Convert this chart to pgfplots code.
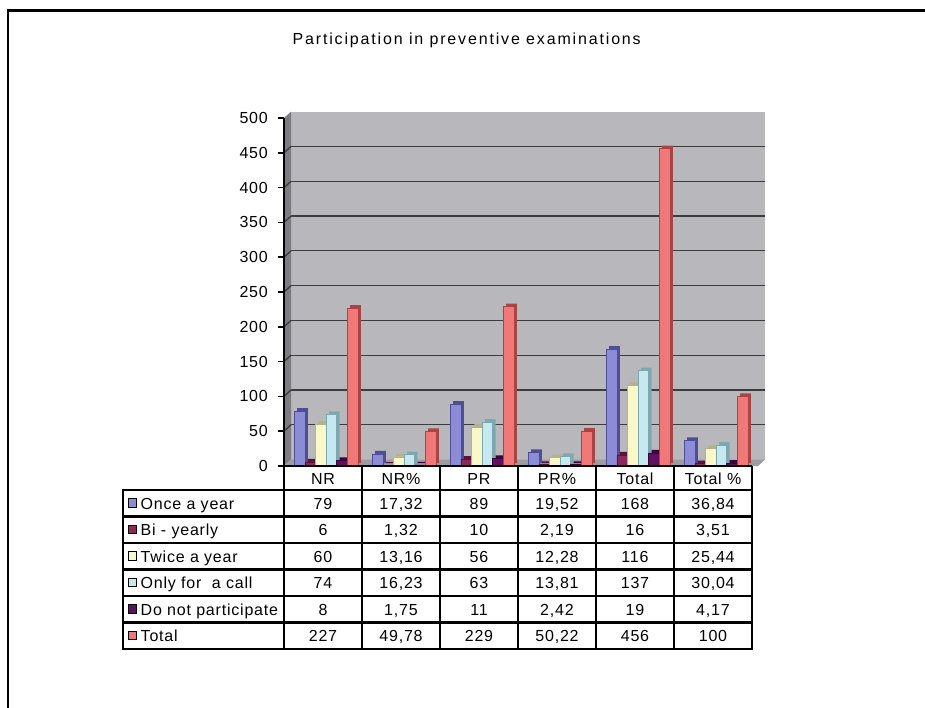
\documentclass[border=0pt]{standalone}
\usepackage{fontspec}
\setmainfont{Liberation Sans}
\newfontfamily\cellfont{Liberation Sans}[LetterSpace=5]
\newfontfamily\headfont{Liberation Sans}[LetterSpace=11.5]
\usepackage{pgfplots}
\usepackage{pgfplotstable}
\pgfplotsset{compat=1.18}

% series colours: front faces (F) and darker side faces (S)
\definecolor{onceF}{HTML}{8C8CD6}\definecolor{onceS}{HTML}{4E4E96}
\definecolor{biF}{HTML}{8C285A}\definecolor{biS}{HTML}{56143A}
\definecolor{twiceF}{HTML}{FAF8C8}\definecolor{twiceS}{HTML}{B4B28A}
\definecolor{onlyF}{HTML}{C6E8F0}\definecolor{onlyS}{HTML}{7EA8B0}
\definecolor{dnpF}{HTML}{601060}\definecolor{dnpS}{HTML}{3A063A}
\definecolor{totalF}{HTML}{F07878}\definecolor{totalS}{HTML}{A84444}
\definecolor{wallc}{HTML}{B8B8BC}
\definecolor{sidec}{HTML}{7C7C82}
\definecolor{floorc}{HTML}{9C9CA2}
\definecolor{gridc}{HTML}{3C3C3C}

% rows: NR, NR%, PR, PR%, Total, Total %
\pgfplotstableread{
x once bi twice only dnp total
0 79 6 60 74 8 227
1 17.32 1.32 13.16 16.23 1.75 49.78
2 89 10 56 63 11 229
3 19.52 2.19 12.28 13.81 2.42 50.22
4 168 16 116 137 19 456
5 36.84 3.51 25.44 30.04 4.17 100
}\partdata

\pgfkeys{/pgf/number format/.cd, fixed, precision=2, use comma, assume math mode=true}
\newcommand\cellsize{\fontsize{16}{19}\selectfont}

\pgfplotsset{
  side/.style={ybar, bar width=10.6pt, draw=none, xshift=3pt, yshift=3pt},
  front/.style={ybar, bar width=10.6pt, line width=0.5pt},
}

\begin{document}
\begin{tikzpicture}
\useasboundingbox (0pt,0pt) rectangle (925pt,-708pt);

\begin{scope}[x=1pt,y=-1pt]
  % frame
  \draw[line width=2.5pt] (7.8,708) -- (7.8,10.5) -- (925,10.5);
  % title
  \node[font=\headfont\cellsize, anchor=base, inner sep=0pt] at (466.7,45)
    {Participation in preventive examinations};
\end{scope}

% back wall with gridlines
\begin{axis}[
  at={(291pt,-459.5pt)}, anchor=south west,
  scale only axis, width=474pt, height=347.8pt,
  xmin=0, xmax=1, ymin=0, ymax=500,
  axis line style={draw=none},
  xtick=\empty, ytick={50,100,...,450}, yticklabels={},
  major tick length=0pt,
  ymajorgrids, grid style={draw=gridc, line width=1.3pt},
  axis background/.style={fill=wallc},
]
\end{axis}

\begin{scope}[x=1pt,y=-1pt]
  % side wall and floor
  \fill[sidec] (284,466) -- (291,459.5) -- (291,111.7) -- (284,118) -- cycle;
  \fill[floorc] (284,466) -- (758,466) -- (765,459.5) -- (291,459.5) -- cycle;
  \foreach \v in {50,100,...,450}
    \draw[gridc, line width=1.3pt] (284,{466-0.696*\v}) -- (291,{459.5-0.6956*\v});
\end{scope}

% columns
\begin{axis}[
  at={(284pt,-466pt)}, anchor=south west,
  scale only axis, width=468pt, height=348pt,
  xmin=-0.5, xmax=5.5, ymin=0, ymax=500,
  clip=false,
  axis x line=none, axis y line*=left,
  y axis line style={black, line width=1.6pt},
  ytick={0,50,...,500},
  tick align=outside, major tick length=6pt,
  ytick style={black, line width=1.6pt},
  yticklabel style={font=\cellfont\cellsize, inner sep=0pt, xshift=-10pt},
]
\addplot[side, bar shift=-23.5pt, fill=onceS]  table[x=x, y=once]  {\partdata};
\addplot[side, bar shift=-12.9pt, fill=biS]    table[x=x, y=bi]    {\partdata};
\addplot[side, bar shift=-2.3pt,  fill=twiceS] table[x=x, y=twice] {\partdata};
\addplot[side, bar shift=8.3pt,   fill=onlyS]  table[x=x, y=only]  {\partdata};
\addplot[side, bar shift=18.9pt,  fill=dnpS]   table[x=x, y=dnp]   {\partdata};
\addplot[side, bar shift=29.5pt,  fill=totalS] table[x=x, y=total] {\partdata};

\addplot[front, bar shift=-23.5pt, fill=onceF,  draw=onceS]  table[x=x, y=once]  {\partdata};
\addplot[front, bar shift=-12.9pt, fill=biF,    draw=biS]    table[x=x, y=bi]    {\partdata};
\addplot[front, bar shift=-2.3pt,  fill=twiceF, draw=twiceS] table[x=x, y=twice] {\partdata};
\addplot[front, bar shift=8.3pt,   fill=onlyF,  draw=onlyS]  table[x=x, y=only]  {\partdata};
\addplot[front, bar shift=18.9pt,  fill=dnpF,   draw=dnpS]   table[x=x, y=dnp]   {\partdata};
\addplot[front, bar shift=29.5pt,  fill=totalF, draw=totalS] table[x=x, y=total] {\partdata};
\end{axis}

% data table under the columns
\begin{scope}[x=1pt,y=-1pt]
  \foreach \h [count=\c from 0] in {NR,NR\%,PR,PR\%,Total,Total \%}
    \node[font=\cellfont\cellsize, anchor=base, inner sep=0pt] at ({323+78*\c},484) {\h};
  \foreach \s/\lab/\col [count=\r from 0] in {
      once/Once a year/onceF, bi/Bi - yearly/biF, twice/Twice a year/twiceF,
      only/Only for\ \ a call/onlyF, dnp/Do not participate/dnpF, total/Total/totalF} {
    \draw[line width=1pt, fill=\col] (128.3,{498.5+26.5*\r}) rectangle ++(8.5,8.5);
    \node[font=\cellfont\cellsize, anchor=base west, inner sep=0pt] at (140.5,{509+26.5*\r}) {\lab};
    \foreach \c in {0,...,5} {
      \pgfplotstablegetelem{\c}{\s}\of\partdata
      \node[font=\cellfont\cellsize, anchor=base, inner sep=0pt] at ({323+78*\c},{509+26.5*\r})
        {\pgfmathprintnumber{\pgfplotsretval}};
    }
  }
  % grid of the table
  \foreach \yy in {490,516.5,543,569.5,596,622.5,649}
    \draw[line width=2.2pt] (123,\yy) -- (752,\yy);
  \draw[line width=2.2pt] (284,466) -- (752,466);
  \draw[line width=2.2pt] (123,488.9) -- (123,650.1);
  \foreach \xx in {284,362,440,518,596,674,752}
    \draw[line width=2.2pt] (\xx,466) -- (\xx,650.1);
\end{scope}
\end{tikzpicture}
\end{document}
